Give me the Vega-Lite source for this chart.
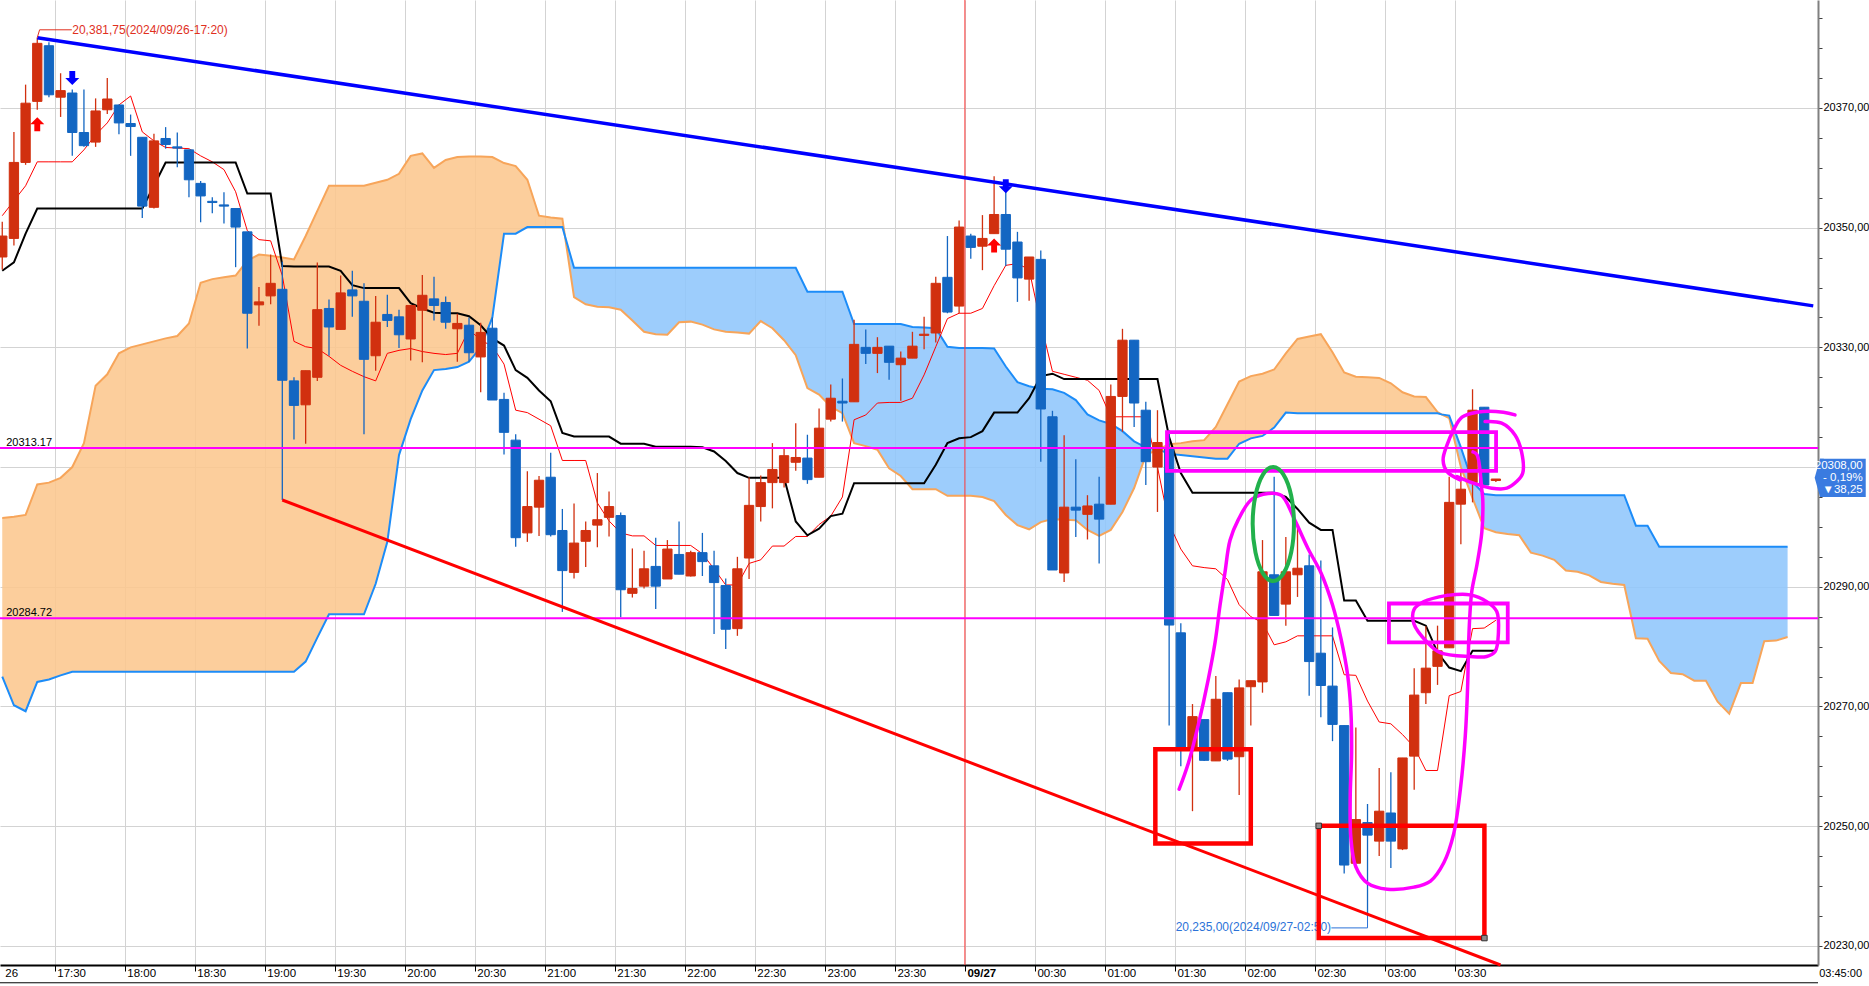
{
  "$schema": "https://vega.github.io/schema/vega-lite/v6.json",
  "width": 1818,
  "height": 965,
  "autosize": {"type": "none"},
  "padding": {"left": 0, "top": 0, "right": 51, "bottom": 21},
  "background": "#ffffff",
  "config": {"view": {"stroke": null}, "font": "Liberation Sans"},
  "resolve": {"axis": {"x": "independent", "y": "independent"}},
  "datasets": {
    "candles": [
      {"t":5,"o":20345.1,"h":20351,"l":20343,"c":20348.6,"tk":20352,"kj":20342.8},
      {"t":10,"o":20348.2,"h":20366,"l":20347,"c":20360.9,"tk":20354.5,"kj":20344.2},
      {"t":15,"o":20360.9,"h":20373.9,"l":20360.5,"c":20370.8,"tk":20357,"kj":20349},
      {"t":20,"o":20371.1,"h":20381.75,"l":20369.7,"c":20380.8,"tk":20361,"kj":20353.2},
      {"t":25,"o":20380.4,"h":20381,"l":20371.8,"c":20372.2,"tk":20361,"kj":20353.2},
      {"t":30,"o":20371.8,"h":20375.8,"l":20368.5,"c":20372.9,"tk":20361,"kj":20353.2},
      {"t":35,"o":20372.5,"h":20373.1,"l":20362,"c":20365.9,"tk":20361,"kj":20353.2},
      {"t":40,"o":20365.9,"h":20373.1,"l":20363.5,"c":20363.7,"tk":20363,"kj":20353.2},
      {"t":45,"o":20364.3,"h":20371.6,"l":20363.5,"c":20369.5,"tk":20365.5,"kj":20353.2},
      {"t":50,"o":20369.7,"h":20375,"l":20369,"c":20371.5,"tk":20367.5,"kj":20353.2},
      {"t":55,"o":20370.5,"h":20370.6,"l":20365.6,"c":20367.5,"tk":20370.5,"kj":20353.2},
      {"t":60,"o":20367.4,"h":20368.9,"l":20362,"c":20366.9,"tk":20372,"kj":20353.2},
      {"t":65,"o":20365.1,"h":20365.1,"l":20351.6,"c":20353.6,"tk":20366,"kj":20353.2},
      {"t":70,"o":20353.4,"h":20365.7,"l":20353.2,"c":20364.5,"tk":20364.5,"kj":20357},
      {"t":75,"o":20364.9,"h":20366.8,"l":20363.2,"c":20363.9,"tk":20363.4,"kj":20360.9},
      {"t":80,"o":20363.5,"h":20365.9,"l":20360.1,"c":20363.3,"tk":20363.3,"kj":20360.9},
      {"t":85,"o":20363,"h":20363,"l":20355.1,"c":20358,"tk":20363.2,"kj":20360.9},
      {"t":90,"o":20357.4,"h":20357.8,"l":20350.9,"c":20355.3,"tk":20362,"kj":20360.9},
      {"t":95,"o":20354.4,"h":20355.1,"l":20352.4,"c":20354.2,"tk":20361,"kj":20360.9},
      {"t":100,"o":20353.8,"h":20355.9,"l":20350.7,"c":20353.6,"tk":20359.7,"kj":20360.9},
      {"t":105,"o":20353.2,"h":20353.2,"l":20343.4,"c":20350.1,"tk":20356,"kj":20360.9},
      {"t":110,"o":20349.3,"h":20349.3,"l":20329.8,"c":20335.7,"tk":20349.5,"kj":20355.7},
      {"t":115,"o":20337.1,"h":20340.1,"l":20333.6,"c":20337.6,"tk":20348,"kj":20355.7},
      {"t":120,"o":20338.6,"h":20345.5,"l":20337.2,"c":20340.7,"tk":20347.8,"kj":20355.7},
      {"t":125,"o":20339.7,"h":20344.3,"l":20304.5,"c":20324.5,"tk":20342,"kj":20343.6},
      {"t":130,"o":20324.4,"h":20325,"l":20314.6,"c":20320.3,"tk":20331,"kj":20343.5},
      {"t":135,"o":20320.4,"h":20326.1,"l":20313.9,"c":20326.1,"tk":20330.1,"kj":20343.5},
      {"t":140,"o":20325,"h":20344.2,"l":20324.4,"c":20336.3,"tk":20329.8,"kj":20343.5},
      {"t":145,"o":20336.5,"h":20338,"l":20328.6,"c":20333.4,"tk":20328.5,"kj":20343.5},
      {"t":150,"o":20333,"h":20342,"l":20333,"c":20339.1,"tk":20327,"kj":20342.8},
      {"t":155,"o":20339.6,"h":20342.8,"l":20335.1,"c":20338.6,"tk":20326,"kj":20340.4},
      {"t":160,"o":20337.7,"h":20340.7,"l":20315.5,"c":20328,"tk":20325.1,"kj":20339.9},
      {"t":165,"o":20328.6,"h":20338.6,"l":20326.1,"c":20334.2,"tk":20324.4,"kj":20339.9},
      {"t":170,"o":20335.5,"h":20338.8,"l":20333.4,"c":20334.5,"tk":20329,"kj":20339.9},
      {"t":175,"o":20335.1,"h":20336.3,"l":20329.9,"c":20332.1,"tk":20329.5,"kj":20339.9},
      {"t":180,"o":20331.4,"h":20337,"l":20327.8,"c":20337,"tk":20329.8,"kj":20337.4},
      {"t":185,"o":20336.2,"h":20342.1,"l":20327.5,"c":20338.7,"tk":20329.3,"kj":20336.5},
      {"t":190,"o":20338.1,"h":20341.8,"l":20334.5,"c":20337,"tk":20329,"kj":20335.8},
      {"t":195,"o":20337.5,"h":20338.5,"l":20333.1,"c":20334.2,"tk":20328.8,"kj":20335.7},
      {"t":200,"o":20333.1,"h":20335.6,"l":20327.6,"c":20334,"tk":20329,"kj":20335.7},
      {"t":205,"o":20333.7,"h":20335,"l":20327.6,"c":20329.1,"tk":20333,"kj":20335.2},
      {"t":210,"o":20328.4,"h":20334.1,"l":20322.5,"c":20332.5,"tk":20331.2,"kj":20333.7},
      {"t":215,"o":20333.2,"h":20335,"l":20321.2,"c":20321.2,"tk":20330.2,"kj":20331.5},
      {"t":220,"o":20321.3,"h":20322.4,"l":20312.1,"c":20315.8,"tk":20327.2,"kj":20330.3},
      {"t":225,"o":20314.5,"h":20315.5,"l":20296.7,"c":20298.2,"tk":20319.5,"kj":20326.2},
      {"t":230,"o":20299,"h":20309.3,"l":20297.5,"c":20303.4,"tk":20319.1,"kj":20324.9},
      {"t":235,"o":20303.3,"h":20308.5,"l":20298.5,"c":20307.8,"tk":20318,"kj":20322.8},
      {"t":240,"o":20308.3,"h":20312.4,"l":20298.4,"c":20298.7,"tk":20316.9,"kj":20321},
      {"t":245,"o":20299.4,"h":20303,"l":20285.8,"c":20292.7,"tk":20311.1,"kj":20315.7},
      {"t":250,"o":20292.4,"h":20303.9,"l":20291.4,"c":20297.3,"tk":20311.1,"kj":20315.1},
      {"t":255,"o":20297.6,"h":20300.9,"l":20293.3,"c":20299.4,"tk":20311.1,"kj":20315.1},
      {"t":260,"o":20300.3,"h":20309,"l":20296.6,"c":20301.2,"tk":20304,"kj":20315.1},
      {"t":265,"o":20301.6,"h":20305.9,"l":20298.4,"c":20303.4,"tk":20301,"kj":20315.1},
      {"t":270,"o":20301.9,"h":20302.4,"l":20284.9,"c":20289.5,"tk":20299,"kj":20313.9},
      {"t":275,"o":20288.9,"h":20296.4,"l":20288.2,"c":20289.7,"tk":20298.5,"kj":20313.9},
      {"t":280,"o":20290.1,"h":20296,"l":20289.7,"c":20293,"tk":20298.5,"kj":20313.9},
      {"t":285,"o":20293.4,"h":20298.2,"l":20286.3,"c":20290.1,"tk":20296.9,"kj":20313.4},
      {"t":290,"o":20291.3,"h":20297.8,"l":20291.3,"c":20296.3,"tk":20296.9,"kj":20313.4},
      {"t":295,"o":20295.4,"h":20300.9,"l":20292.1,"c":20292.1,"tk":20296.9,"kj":20313.4},
      {"t":300,"o":20291.8,"h":20296,"l":20291.7,"c":20295.7,"tk":20296.9,"kj":20313.4},
      {"t":305,"o":20295.7,"h":20299,"l":20291.8,"c":20294.2,"tk":20295.5,"kj":20313.3},
      {"t":310,"o":20293.5,"h":20296,"l":20282.1,"c":20290.7,"tk":20293,"kj":20312.6},
      {"t":315,"o":20290.2,"h":20291.4,"l":20279.6,"c":20282.9,"tk":20290.3,"kj":20311},
      {"t":320,"o":20283,"h":20295,"l":20281.8,"c":20293,"tk":20290.3,"kj":20309},
      {"t":325,"o":20294.8,"h":20308.3,"l":20291.3,"c":20303.6,"tk":20293.9,"kj":20308.2},
      {"t":330,"o":20303.4,"h":20308.6,"l":20300.9,"c":20307.4,"tk":20294.5,"kj":20308.2},
      {"t":335,"o":20307.4,"h":20314,"l":20303.1,"c":20309.6,"tk":20296.8,"kj":20308.2},
      {"t":340,"o":20307.4,"h":20313,"l":20306.6,"c":20311.9,"tk":20296.8,"kj":20308.2},
      {"t":345,"o":20310.8,"h":20317.3,"l":20309.4,"c":20311.6,"tk":20298.4,"kj":20300.9},
      {"t":350,"o":20311.5,"h":20315.4,"l":20307.2,"c":20307.9,"tk":20298.4,"kj":20298.6},
      {"t":355,"o":20308.3,"h":20319.8,"l":20308.3,"c":20316.5,"tk":20300.4,"kj":20299.7},
      {"t":360,"o":20318,"h":20323.8,"l":20317.6,"c":20321.5,"tk":20301.8,"kj":20301.8},
      {"t":365,"o":20321,"h":20324.8,"l":20317.6,"c":20320.7,"tk":20305,"kj":20302.2},
      {"t":370,"o":20320.9,"h":20334.6,"l":20320.9,"c":20330.5,"tk":20317.9,"kj":20307.3},
      {"t":375,"o":20330,"h":20333,"l":20327.2,"c":20329,"tk":20318.7,"kj":20307.3},
      {"t":380,"o":20329,"h":20331.7,"l":20325.7,"c":20330,"tk":20320.7,"kj":20307.3},
      {"t":385,"o":20330.2,"h":20330.2,"l":20324.6,"c":20327.5,"tk":20320.8,"kj":20307.3},
      {"t":390,"o":20327.1,"h":20329.3,"l":20321.1,"c":20328.2,"tk":20320.8,"kj":20307.3},
      {"t":395,"o":20328.2,"h":20332.6,"l":20328.2,"c":20330.2,"tk":20321.5,"kj":20307.3},
      {"t":400,"o":20332,"h":20335.1,"l":20329.7,"c":20332.2,"tk":20325.4,"kj":20307.3},
      {"t":405,"o":20332.4,"h":20341.8,"l":20330.8,"c":20340.7,"tk":20330.1,"kj":20310.4},
      {"t":410,"o":20341.7,"h":20348.6,"l":20335.7,"c":20335.9,"tk":20334.8,"kj":20314},
      {"t":415,"o":20336.9,"h":20351.2,"l":20335.7,"c":20350.1,"tk":20335.7,"kj":20314.8},
      {"t":420,"o":20348.6,"h":20349,"l":20344.8,"c":20346.7,"tk":20335.7,"kj":20315},
      {"t":425,"o":20346.9,"h":20352.1,"l":20342.9,"c":20348.2,"tk":20336.5,"kj":20316},
      {"t":430,"o":20349,"h":20358.6,"l":20349,"c":20352.2,"tk":20340.3,"kj":20319.1},
      {"t":435,"o":20352.2,"h":20357.5,"l":20343.6,"c":20346.4,"tk":20343.7,"kj":20319.1},
      {"t":440,"o":20347.6,"h":20349.3,"l":20337.6,"c":20341.6,"tk":20344,"kj":20319.1},
      {"t":445,"o":20341.4,"h":20345.1,"l":20337.8,"c":20345.1,"tk":20343,"kj":20321.5},
      {"t":450,"o":20344.7,"h":20346.2,"l":20310.9,"c":20319.7,"tk":20334,"kj":20325.2},
      {"t":455,"o":20318.4,"h":20319.4,"l":20292.8,"c":20292.8,"tk":20326,"kj":20325.6},
      {"t":460,"o":20292.3,"h":20315.3,"l":20290.8,"c":20303.3,"tk":20325.5,"kj":20324.7},
      {"t":465,"o":20303.3,"h":20311.3,"l":20298.3,"c":20302.8,"tk":20325,"kj":20324.7},
      {"t":470,"o":20302.1,"h":20305.3,"l":20297.9,"c":20303.5,"tk":20324.5,"kj":20324.7},
      {"t":475,"o":20303.8,"h":20308.4,"l":20293.9,"c":20301.3,"tk":20322.8,"kj":20324.7},
      {"t":480,"o":20303.8,"h":20323.8,"l":20303.8,"c":20321.8,"tk":20318.4,"kj":20324.7},
      {"t":485,"o":20321.8,"h":20333.1,"l":20315.9,"c":20331.2,"tk":20318.4,"kj":20324.7},
      {"t":490,"o":20331.2,"h":20331.2,"l":20316.7,"c":20320.7,"tk":20318.4,"kj":20324.7},
      {"t":495,"o":20319.5,"h":20320.9,"l":20307,"c":20310.9,"tk":20318.4,"kj":20324.7},
      {"t":500,"o":20310,"h":20319.5,"l":20302.5,"c":20314.1,"tk":20310,"kj":20324.7},
      {"t":505,"o":20313.2,"h":20316.2,"l":20266.8,"c":20283.6,"tk":20300.5,"kj":20315},
      {"t":510,"o":20282.3,"h":20283.9,"l":20260,"c":20263.1,"tk":20296.3,"kj":20309},
      {"t":515,"o":20263.2,"h":20270.4,"l":20252.5,"c":20268.3,"tk":20293.5,"kj":20305.7},
      {"t":520,"o":20267.8,"h":20267.8,"l":20260.9,"c":20261,"tk":20293.2,"kj":20305.7},
      {"t":525,"o":20260.9,"h":20275.1,"l":20260.9,"c":20271.2,"tk":20293,"kj":20305.7},
      {"t":530,"o":20272.3,"h":20272.3,"l":20260.9,"c":20261.2,"tk":20291.2,"kj":20305.7},
      {"t":535,"o":20261.6,"h":20274.5,"l":20255.2,"c":20273.1,"tk":20287,"kj":20305.7},
      {"t":540,"o":20273.3,"h":20274.3,"l":20266.8,"c":20274.3,"tk":20285,"kj":20305.7},
      {"t":545,"o":20274.1,"h":20297.8,"l":20272.3,"c":20292.5,"tk":20284,"kj":20305.7},
      {"t":550,"o":20292,"h":20308.4,"l":20285.2,"c":20285.2,"tk":20280.3,"kj":20305.7},
      {"t":555,"o":20287.1,"h":20298.3,"l":20283.5,"c":20292.5,"tk":20280.8,"kj":20305},
      {"t":560,"o":20292,"h":20299.9,"l":20288.3,"c":20293.1,"tk":20281.8,"kj":20303},
      {"t":565,"o":20293.5,"h":20295.4,"l":20271.8,"c":20277.5,"tk":20281.8,"kj":20300.7},
      {"t":570,"o":20278.9,"h":20294.4,"l":20268.2,"c":20273.5,"tk":20281.8,"kj":20299.5},
      {"t":575,"o":20273.4,"h":20283.2,"l":20264.2,"c":20267,"tk":20281.8,"kj":20299.5},
      {"t":580,"o":20266.8,"h":20266.8,"l":20242.1,"c":20243.5,"tk":20275.3,"kj":20287.7},
      {"t":585,"o":20243.8,"h":20266.5,"l":20243.8,"c":20251.1,"tk":20275.2,"kj":20287.7},
      {"t":590,"o":20250.6,"h":20253.7,"l":20235,"c":20248.5,"tk":20270.9,"kj":20284.3},
      {"t":595,"o":20247.5,"h":20259.7,"l":20245,"c":20252.5,"tk":20267.4,"kj":20284.3},
      {"t":600,"o":20252.2,"h":20259,"l":20243,"c":20247.5,"tk":20267.1,"kj":20284.3},
      {"t":605,"o":20246.2,"h":20261.4,"l":20246,"c":20261.4,"tk":20265.3,"kj":20284.3},
      {"t":610,"o":20261.7,"h":20276.4,"l":20256.1,"c":20271.9,"tk":20263.2,"kj":20284.3},
      {"t":615,"o":20272.3,"h":20283.4,"l":20270.4,"c":20276.4,"tk":20259.3,"kj":20283.5},
      {"t":620,"o":20276.7,"h":20283.5,"l":20273.6,"c":20279.3,"tk":20259.3,"kj":20279},
      {"t":625,"o":20279.8,"h":20308.4,"l":20279.8,"c":20304.1,"tk":20271.8,"kj":20276.5},
      {"t":630,"o":20303.8,"h":20309.3,"l":20297.1,"c":20306.3,"tk":20272.5,"kj":20275.9},
      {"t":635,"o":20307.4,"h":20323,"l":20304.1,"c":20319.5,"tk":20283,"kj":20279.3},
      {"t":640,"o":20320,"h":20320,"l":20307,"c":20307,"tk":20283.1,"kj":20279.3},
      {"t":645,"o":20307.75,"h":20308,"l":20307.5,"c":20308,"tk":20284.4,"kj":20279.3}
    ],
    "kumo": [
      {"t":5,"a":20275,"b":20301.5,"s":1,"k":"o"},
      {"t":10,"a":20270.2,"b":20301.7,"s":1,"k":"o"},
      {"t":15,"a":20269.2,"b":20302,"s":1,"k":"o"},
      {"t":20,"a":20274.1,"b":20307.1,"s":1,"k":"o"},
      {"t":25,"a":20274.5,"b":20307.4,"s":1,"k":"o"},
      {"t":30,"a":20275.2,"b":20308.2,"s":1,"k":"o"},
      {"t":35,"a":20275.8,"b":20310,"s":1,"k":"o"},
      {"t":40,"a":20275.8,"b":20314,"s":1,"k":"o"},
      {"t":45,"a":20275.8,"b":20323.6,"s":1,"k":"o"},
      {"t":50,"a":20275.8,"b":20325.5,"s":1,"k":"o"},
      {"t":55,"a":20275.8,"b":20329,"s":1,"k":"o"},
      {"t":60,"a":20275.8,"b":20330,"s":1,"k":"o"},
      {"t":65,"a":20275.8,"b":20330.5,"s":1,"k":"o"},
      {"t":70,"a":20275.8,"b":20331,"s":1,"k":"o"},
      {"t":75,"a":20275.8,"b":20331.5,"s":1,"k":"o"},
      {"t":80,"a":20275.8,"b":20331.9,"s":1,"k":"o"},
      {"t":85,"a":20275.8,"b":20334,"s":1,"k":"o"},
      {"t":90,"a":20275.8,"b":20340.8,"s":1,"k":"o"},
      {"t":95,"a":20275.8,"b":20341.4,"s":1,"k":"o"},
      {"t":100,"a":20275.8,"b":20341.7,"s":1,"k":"o"},
      {"t":105,"a":20275.8,"b":20342,"s":1,"k":"o"},
      {"t":110,"a":20275.8,"b":20344.5,"s":1,"k":"o"},
      {"t":115,"a":20275.8,"b":20345.5,"s":1,"k":"o"},
      {"t":120,"a":20275.8,"b":20345.3,"s":1,"k":"o"},
      {"t":125,"a":20275.8,"b":20345,"s":1,"k":"o"},
      {"t":130,"a":20275.8,"b":20344.7,"s":1,"k":"o"},
      {"t":135,"a":20277.5,"b":20348.6,"s":1,"k":"o"},
      {"t":140,"a":20281.5,"b":20352.8,"s":1,"k":"o"},
      {"t":145,"a":20285.4,"b":20357,"s":1,"k":"o"},
      {"t":150,"a":20285.4,"b":20357,"s":1,"k":"o"},
      {"t":155,"a":20285.4,"b":20357,"s":1,"k":"o"},
      {"t":160,"a":20285.4,"b":20357,"s":1,"k":"o"},
      {"t":165,"a":20290.5,"b":20357.5,"s":1,"k":"o"},
      {"t":170,"a":20297.5,"b":20358,"s":1,"k":"o"},
      {"t":175,"a":20312,"b":20359,"s":1,"k":"o"},
      {"t":180,"a":20318,"b":20362,"s":1,"k":"o"},
      {"t":185,"a":20322.8,"b":20362.4,"s":1,"k":"o"},
      {"t":190,"a":20326.2,"b":20360,"s":1,"k":"o"},
      {"t":195,"a":20326.4,"b":20361.3,"s":1,"k":"o"},
      {"t":200,"a":20326.7,"b":20361.8,"s":1,"k":"o"},
      {"t":205,"a":20327.6,"b":20361.9,"s":1,"k":"o"},
      {"t":210,"a":20330,"b":20361.9,"s":1,"k":"o"},
      {"t":215,"a":20335,"b":20361.8,"s":1,"k":"o"},
      {"t":220,"a":20349,"b":20360.8,"s":1,"k":"o"},
      {"t":225,"a":20349,"b":20360.3,"s":1,"k":"o"},
      {"t":230,"a":20350.1,"b":20358,"s":1,"k":"o"},
      {"t":235,"a":20350.1,"b":20352,"s":1,"k":"o"},
      {"t":240,"a":20350.1,"b":20351.7,"s":1,"k":"o"},
      {"t":245,"a":20350.1,"b":20351.5,"s":1,"k":"o"},
      {"t":246.1,"a":20348.6,"b":20348.6,"s":1,"k":"o"},
      {"t":246.1,"a":20348.6,"b":20348.6,"s":2,"k":"b"},
      {"t":250,"a":20343.3,"b":20338.4,"s":2,"k":"b"},
      {"t":255,"a":20343.3,"b":20337.2,"s":2,"k":"b"},
      {"t":260,"a":20343.3,"b":20336.8,"s":2,"k":"b"},
      {"t":265,"a":20343.3,"b":20336.7,"s":2,"k":"b"},
      {"t":270,"a":20343.3,"b":20336.3,"s":2,"k":"b"},
      {"t":275,"a":20343.3,"b":20334.5,"s":2,"k":"b"},
      {"t":280,"a":20343.3,"b":20332.6,"s":2,"k":"b"},
      {"t":285,"a":20343.3,"b":20332.2,"s":2,"k":"b"},
      {"t":290,"a":20343.3,"b":20332.1,"s":2,"k":"b"},
      {"t":295,"a":20343.3,"b":20334.2,"s":2,"k":"b"},
      {"t":300,"a":20343.3,"b":20334.3,"s":2,"k":"b"},
      {"t":305,"a":20343.3,"b":20333.8,"s":2,"k":"b"},
      {"t":310,"a":20343.3,"b":20333,"s":2,"k":"b"},
      {"t":315,"a":20343.3,"b":20332.6,"s":2,"k":"b"},
      {"t":320,"a":20343.3,"b":20332.5,"s":2,"k":"b"},
      {"t":325,"a":20343.3,"b":20332.3,"s":2,"k":"b"},
      {"t":330,"a":20343.3,"b":20334.4,"s":2,"k":"b"},
      {"t":335,"a":20343.3,"b":20333.2,"s":2,"k":"b"},
      {"t":340,"a":20343.3,"b":20331.2,"s":2,"k":"b"},
      {"t":345,"a":20343.3,"b":20328.7,"s":2,"k":"b"},
      {"t":350,"a":20339.3,"b":20323.2,"s":2,"k":"b"},
      {"t":355,"a":20339.3,"b":20322.1,"s":2,"k":"b"},
      {"t":360,"a":20339.3,"b":20320.1,"s":2,"k":"b"},
      {"t":365,"a":20339.3,"b":20319,"s":2,"k":"b"},
      {"t":370,"a":20333.9,"b":20314,"s":2,"k":"b"},
      {"t":375,"a":20333.9,"b":20313.5,"s":2,"k":"b"},
      {"t":380,"a":20333.9,"b":20312.9,"s":2,"k":"b"},
      {"t":385,"a":20333.9,"b":20309.8,"s":2,"k":"b"},
      {"t":390,"a":20333.9,"b":20308.5,"s":2,"k":"b"},
      {"t":395,"a":20333.4,"b":20306.3,"s":2,"k":"b"},
      {"t":400,"a":20333.3,"b":20306.3,"s":2,"k":"b"},
      {"t":405,"a":20333.2,"b":20306.3,"s":2,"k":"b"},
      {"t":410,"a":20330.1,"b":20305.2,"s":2,"k":"b"},
      {"t":415,"a":20329.9,"b":20305.2,"s":2,"k":"b"},
      {"t":420,"a":20329.9,"b":20305.2,"s":2,"k":"b"},
      {"t":425,"a":20329.9,"b":20305,"s":2,"k":"b"},
      {"t":430,"a":20329.8,"b":20304.3,"s":2,"k":"b"},
      {"t":435,"a":20326.8,"b":20302,"s":2,"k":"b"},
      {"t":440,"a":20324.2,"b":20300.3,"s":2,"k":"b"},
      {"t":445,"a":20323.5,"b":20299.6,"s":2,"k":"b"},
      {"t":450,"a":20323.1,"b":20300.8,"s":2,"k":"b"},
      {"t":455,"a":20323,"b":20301.3,"s":2,"k":"b"},
      {"t":460,"a":20322.4,"b":20301.2,"s":2,"k":"b"},
      {"t":465,"a":20321.2,"b":20301.1,"s":2,"k":"b"},
      {"t":470,"a":20318.8,"b":20299.5,"s":2,"k":"b"},
      {"t":475,"a":20317.8,"b":20298.5,"s":2,"k":"b"},
      {"t":480,"a":20317.2,"b":20299.5,"s":2,"k":"b"},
      {"t":485,"a":20316,"b":20302.5,"s":2,"k":"b"},
      {"t":490,"a":20314.3,"b":20306.5,"s":2,"k":"b"},
      {"t":495,"a":20313.3,"b":20312,"s":2,"k":"b"},
      {"t":500,"a":20313,"b":20312.9,"s":2,"k":"b"},
      {"t":500.3,"a":20312.96,"b":20312.96,"s":2,"k":"b"},
      {"t":500.3,"a":20312.96,"b":20312.96,"s":3,"k":"o"},
      {"t":505,"a":20312.2,"b":20313.8,"s":3,"k":"o"},
      {"t":510,"a":20312,"b":20314,"s":3,"k":"o"},
      {"t":515,"a":20311.8,"b":20314.3,"s":3,"k":"o"},
      {"t":520,"a":20311.6,"b":20314.5,"s":3,"k":"o"},
      {"t":525,"a":20311.4,"b":20316.7,"s":3,"k":"o"},
      {"t":530,"a":20311.4,"b":20320.5,"s":3,"k":"o"},
      {"t":535,"a":20313.9,"b":20324.3,"s":3,"k":"o"},
      {"t":540,"a":20314.8,"b":20325.2,"s":3,"k":"o"},
      {"t":545,"a":20315.2,"b":20325.6,"s":3,"k":"o"},
      {"t":550,"a":20316.6,"b":20326.3,"s":3,"k":"o"},
      {"t":555,"a":20319.1,"b":20329,"s":3,"k":"o"},
      {"t":560,"a":20319,"b":20331.4,"s":3,"k":"o"},
      {"t":565,"a":20319,"b":20331.8,"s":3,"k":"o"},
      {"t":570,"a":20319,"b":20332.2,"s":3,"k":"o"},
      {"t":575,"a":20319,"b":20329.2,"s":3,"k":"o"},
      {"t":580,"a":20319,"b":20325.8,"s":3,"k":"o"},
      {"t":585,"a":20319,"b":20325.1,"s":3,"k":"o"},
      {"t":590,"a":20319,"b":20325,"s":3,"k":"o"},
      {"t":595,"a":20319,"b":20324.9,"s":3,"k":"o"},
      {"t":600,"a":20319,"b":20324,"s":3,"k":"o"},
      {"t":605,"a":20319,"b":20322.5,"s":3,"k":"o"},
      {"t":610,"a":20319,"b":20321.8,"s":3,"k":"o"},
      {"t":615,"a":20319,"b":20321.7,"s":3,"k":"o"},
      {"t":620,"a":20319,"b":20319.2,"s":3,"k":"o"},
      {"t":621.7,"a":20318.8,"b":20318.8,"s":3,"k":"o"},
      {"t":621.7,"a":20318.8,"b":20318.8,"s":4,"k":"b"},
      {"t":625,"a":20318.6,"b":20318.2,"s":4,"k":"b"},
      {"t":630,"a":20313.3,"b":20310,"s":4,"k":"b"},
      {"t":635,"a":20307.5,"b":20304.8,"s":4,"k":"b"},
      {"t":640,"a":20305.5,"b":20299.8,"s":4,"k":"b"},
      {"t":645,"a":20305.3,"b":20299.1,"s":4,"k":"b"},
      {"t":650,"a":20305.3,"b":20298.8,"s":4,"k":"b"},
      {"t":655,"a":20305.3,"b":20298.6,"s":4,"k":"b"},
      {"t":660,"a":20305.3,"b":20295.7,"s":4,"k":"b"},
      {"t":665,"a":20305.3,"b":20295.2,"s":4,"k":"b"},
      {"t":670,"a":20305.3,"b":20294.5,"s":4,"k":"b"},
      {"t":675,"a":20305.3,"b":20292.7,"s":4,"k":"b"},
      {"t":680,"a":20305.3,"b":20292.5,"s":4,"k":"b"},
      {"t":685,"a":20305.3,"b":20291.9,"s":4,"k":"b"},
      {"t":690,"a":20305.3,"b":20290.8,"s":4,"k":"b"},
      {"t":695,"a":20305.3,"b":20290.5,"s":4,"k":"b"},
      {"t":700,"a":20305.3,"b":20290.3,"s":4,"k":"b"},
      {"t":705,"a":20300.2,"b":20281.4,"s":4,"k":"b"},
      {"t":710,"a":20300.2,"b":20281.3,"s":4,"k":"b"},
      {"t":715,"a":20296.7,"b":20277.6,"s":4,"k":"b"},
      {"t":720,"a":20296.7,"b":20275.6,"s":4,"k":"b"},
      {"t":725,"a":20296.7,"b":20275.4,"s":4,"k":"b"},
      {"t":730,"a":20296.7,"b":20274.3,"s":4,"k":"b"},
      {"t":735,"a":20296.7,"b":20274.3,"s":4,"k":"b"},
      {"t":740,"a":20296.7,"b":20270.8,"s":4,"k":"b"},
      {"t":745,"a":20296.7,"b":20268.8,"s":4,"k":"b"},
      {"t":750,"a":20296.7,"b":20273.9,"s":4,"k":"b"},
      {"t":755,"a":20296.7,"b":20273.9,"s":4,"k":"b"},
      {"t":760,"a":20296.7,"b":20280.9,"s":4,"k":"b"},
      {"t":765,"a":20296.7,"b":20281,"s":4,"k":"b"},
      {"t":770,"a":20296.7,"b":20281.6,"s":4,"k":"b"}
    ],
    "ink": [
      {"g":"loop","i":1,"t":511.8,"p":20256.17},
      {"g":"loop","i":2,"t":515.8,"p":20260.6},
      {"g":"loop","i":3,"t":520.1,"p":20267.08},
      {"g":"loop","i":4,"t":524.3,"p":20274.58},
      {"g":"loop","i":5,"t":527.2,"p":20280.72},
      {"g":"loop","i":6,"t":529.3,"p":20286.86},
      {"g":"loop","i":7,"t":531.4,"p":20292.3},
      {"g":"loop","i":8,"t":533.6,"p":20297.76},
      {"g":"loop","i":9,"t":537.1,"p":20301.17},
      {"g":"loop","i":10,"t":542.8,"p":20304.58},
      {"g":"loop","i":11,"t":549.9,"p":20305.6},
      {"g":"loop","i":12,"t":555.6,"p":20305.27},
      {"g":"loop","i":13,"t":561.3,"p":20301.17},
      {"g":"loop","i":14,"t":567.0,"p":20296.4},
      {"g":"loop","i":15,"t":572.6,"p":20292.3},
      {"g":"loop","i":16,"t":577.6,"p":20286.86},
      {"g":"loop","i":17,"t":581.1,"p":20281.4},
      {"g":"loop","i":18,"t":584.0,"p":20275.26},
      {"g":"loop","i":19,"t":585.4,"p":20269.13},
      {"g":"loop","i":20,"t":585.7,"p":20262.3},
      {"g":"loop","i":21,"t":585.1,"p":20254.8},
      {"g":"loop","i":22,"t":585.4,"p":20247.98},
      {"g":"loop","i":23,"t":587.5,"p":20243.22},
      {"g":"loop","i":24,"t":592.5,"p":20240.48},
      {"g":"loop","i":25,"t":601.0,"p":20239.46},
      {"g":"loop","i":26,"t":612.4,"p":20239.81},
      {"g":"loop","i":27,"t":619.5,"p":20240.83},
      {"g":"loop","i":28,"t":625.2,"p":20243.89},
      {"g":"loop","i":29,"t":629.4,"p":20248.67},
      {"g":"loop","i":30,"t":632.3,"p":20256.17},
      {"g":"loop","i":31,"t":634.4,"p":20265.04},
      {"g":"loop","i":32,"t":635.4,"p":20273.22},
      {"g":"loop","i":33,"t":635.8,"p":20280.04},
      {"g":"loop","i":34,"t":636.3,"p":20284.8},
      {"g":"loop","i":35,"t":637.2,"p":20289.25},
      {"g":"loop","i":36,"t":639.4,"p":20293.67},
      {"g":"loop","i":37,"t":641.5,"p":20299.13},
      {"g":"loop","i":38,"t":641.9,"p":20304.58},
      {"g":"loop","i":39,"t":641.5,"p":20306.18},
      {"g":"loop","i":40,"t":639.4,"p":20312.08},
      {"g":"loop","i":41,"t":637.7,"p":20312.53},
      {"g":"ringB","i":1,"t":626.6,"p":20288.56},
      {"g":"ringB","i":2,"t":636.4,"p":20288.64},
      {"g":"ringB","i":3,"t":643.6,"p":20287.52},
      {"g":"ringB","i":4,"t":647.9,"p":20285.85},
      {"g":"ringB","i":5,"t":648.6,"p":20282.25},
      {"g":"ringB","i":6,"t":647.2,"p":20279.17},
      {"g":"ringB","i":7,"t":643.6,"p":20278.34},
      {"g":"ringB","i":8,"t":636.4,"p":20278.34},
      {"g":"ringB","i":9,"t":623.7,"p":20279.0},
      {"g":"ringB","i":10,"t":618.1,"p":20280.73},
      {"g":"ringB","i":11,"t":612.4,"p":20283.8},
      {"g":"ringB","i":12,"t":612.4,"p":20286.17},
      {"g":"ringB","i":13,"t":616.7,"p":20287.54},
      {"g":"ringB","i":14,"t":626.6,"p":20288.56},
      {"g":"topA","i":1,"t":655.7,"p":20318.71},
      {"g":"topA","i":2,"t":650.7,"p":20319.16},
      {"g":"topA","i":3,"t":639.4,"p":20319.16},
      {"g":"topA","i":4,"t":633.0,"p":20318.33},
      {"g":"topA","i":5,"t":629.4,"p":20316.21},
      {"g":"topA","i":6,"t":626.6,"p":20313.7},
      {"g":"topA","i":7,"t":624.9,"p":20311.2},
      {"g":"topA","i":8,"t":626.6,"p":20309.24},
      {"g":"topA","i":9,"t":632.2,"p":20307.85},
      {"g":"topB","i":1,"t":642.9,"p":20317.6},
      {"g":"topB","i":2,"t":650.0,"p":20317.33},
      {"g":"topB","i":3,"t":655.7,"p":20315.37},
      {"g":"topB","i":4,"t":658.5,"p":20312.58},
      {"g":"topB","i":5,"t":659.0,"p":20308.97},
      {"g":"topB","i":6,"t":656.4,"p":20307.57},
      {"g":"topB","i":7,"t":652.2,"p":20306.47},
      {"g":"topB","i":8,"t":645.8,"p":20306.47},
      {"g":"topB","i":9,"t":638.0,"p":20307.3},
      {"g":"topB","i":10,"t":630.9,"p":20308.41}
    ],
    "ellipse": [
      {"i":1,"t":561.0,"p":20300.49},
      {"i":2,"t":559.8,"p":20305.25},
      {"i":3,"t":556.5,"p":20308.74},
      {"i":4,"t":552.1,"p":20310.01},
      {"i":5,"t":547.7,"p":20308.74},
      {"i":6,"t":544.5,"p":20305.25},
      {"i":7,"t":543.3,"p":20300.49},
      {"i":8,"t":544.5,"p":20295.73},
      {"i":9,"t":547.7,"p":20292.24},
      {"i":10,"t":552.1,"p":20290.97},
      {"i":11,"t":556.5,"p":20292.24},
      {"i":12,"t":559.8,"p":20295.73}
    ]
  },
  "layer": [
    {
      "data": {"name": "kumo"},
      "mark": {"type": "area", "xOffset": 5.87, "opacity": 0.88},
      "encoding": {
        "x": {
          "field": "t", "type": "quantitative",
          "scale": {"domain": [8.69, 783.4], "nice": false, "zero": false},
          "axis": {
            "title": null, "orient": "bottom",
            "values": [30, 60, 90, 120, 150, 180, 210, 240, 270, 300, 330, 360, 390, 420, 450, 480, 510, 540, 570, 600, 630],
            "grid": true, "gridColor": "#d3d3d3", "gridWidth": 1,
            "domain": true, "domainColor": "#000000", "domainWidth": 2,
            "ticks": true, "tickColor": "#000000", "tickSize": 6, "tickWidth": 1,
            "labelAlign": "left", "labelBaseline": "top", "labelPadding": -4, "labelOffset": 2,
            "labelFlush": false, "labelOverlap": false, "labelBound": false,
            "labelFont": "Liberation Sans", "labelFontSize": 11.5, "labelColor": "#000000",
            "labelFontWeight": {"condition": {"test": "datum.value == 420", "value": "bold"}, "value": "normal"},
            "labelExpr": "datum.value == 420 ? '09/27' : (floor((datum.value / 60 + 17) % 24) < 10 ? '0' : '') + floor((datum.value / 60 + 17) % 24) + ':' + (datum.value % 60 == 0 ? '00' : '30')"
          }
        },
        "y": {
          "field": "b", "type": "quantitative", "stack": null,
          "scale": {"domain": [20226.8, 20388.04], "nice": false, "zero": false},
          "axis": {
            "orient": "right", "title": null,
            "values": [20230, 20235, 20240, 20245, 20250, 20255, 20260, 20265, 20270, 20275, 20280, 20285, 20290, 20295, 20300, 20305, 20310, 20315, 20320, 20325, 20330, 20335, 20340, 20345, 20350, 20355, 20360, 20365, 20370, 20375, 20380, 20385],
            "grid": true, "gridColor": "#d3d3d3",
            "gridOpacity": {"condition": {"test": "datum.value % 20 == 10", "value": 1}, "value": 0},
            "domain": true, "domainColor": "#808080", "domainWidth": 2,
            "ticks": true, "tickColor": "#404040", "tickSize": 4,
            "labelPadding": 1, "labelFont": "Liberation Sans", "labelFontSize": 11, "labelColor": "#000000",
            "labelBaseline": "middle", "labelOverlap": false, "labelFlush": false, "labelBound": false,
            "labelExpr": "datum.value % 20 == 10 && datum.value != 20310 ? replace(format(datum.value, '.2f'), '.', ',') : ''"
          }
        },
        "y2": {"field": "a"},
        "color": {"field": "k", "type": "nominal", "scale": {"domain": ["o", "b"], "range": ["#fcc78e", "#90c6fc"]}, "legend": null},
        "detail": {"field": "s"}
      }
    },
    {
      "data": {"name": "kumo"},
      "mark": {"type": "line", "xOffset": 5.87, "color": "#f7a55a", "strokeWidth": 2},
      "encoding": {
        "x": {"field": "t", "type": "quantitative", "scale": {"domain": [8.69, 783.4], "nice": false, "zero": false}, "axis": null},
        "y": {"field": "b", "type": "quantitative", "scale": {"domain": [20226.8, 20388.04], "nice": false, "zero": false}, "axis": null}
      }
    },
    {
      "data": {"name": "kumo"},
      "mark": {"type": "line", "xOffset": 5.87, "color": "#1c8cf8", "strokeWidth": 2},
      "encoding": {
        "x": {"field": "t", "type": "quantitative", "scale": {"domain": [8.69, 783.4], "nice": false, "zero": false}, "axis": null},
        "y": {"field": "a", "type": "quantitative", "scale": {"domain": [20226.8, 20388.04], "nice": false, "zero": false}, "axis": null}
      }
    },
    {
      "data": {"values": [{"t": 420}]},
      "mark": {"type": "rule", "color": "#ff3a3a", "strokeWidth": 1},
      "encoding": {
        "x": {"field": "t", "type": "quantitative", "scale": {"domain": [8.69, 783.4], "nice": false, "zero": false}, "axis": null}
      }
    },
    {
      "data": {"values": [{"p": 20223.83}]},
      "mark": {"type": "rule", "color": "#000000", "strokeWidth": 1},
      "encoding": {
        "y": {"field": "p", "type": "quantitative", "scale": {"domain": [20226.8, 20388.04], "nice": false, "zero": false}, "axis": null}
      }
    },
    {
      "data": {"name": "candles"},
      "mark": {"type": "line", "xOffset": 5.87, "color": "#ff0000", "strokeWidth": 1},
      "encoding": {
        "x": {"field": "t", "type": "quantitative", "scale": {"domain": [8.69, 783.4], "nice": false, "zero": false}, "axis": null},
        "y": {"field": "tk", "type": "quantitative", "scale": {"domain": [20226.8, 20388.04], "nice": false, "zero": false}, "axis": null}
      }
    },
    {
      "data": {"name": "candles"},
      "mark": {"type": "line", "xOffset": 5.87, "color": "#000000", "strokeWidth": 2},
      "encoding": {
        "x": {"field": "t", "type": "quantitative", "scale": {"domain": [8.69, 783.4], "nice": false, "zero": false}, "axis": null},
        "y": {"field": "kj", "type": "quantitative", "scale": {"domain": [20226.8, 20388.04], "nice": false, "zero": false}, "axis": null}
      }
    },
    {
      "data": {"name": "candles"},
      "mark": {"type": "rule", "xOffset": 5.87, "strokeWidth": 1.3},
      "encoding": {
        "x": {"field": "t", "type": "quantitative", "scale": {"domain": [8.69, 783.4], "nice": false, "zero": false}, "axis": null},
        "y": {"field": "l", "type": "quantitative", "scale": {"domain": [20226.8, 20388.04], "nice": false, "zero": false}, "axis": null},
        "y2": {"field": "h"},
        "stroke": {"condition": {"test": "datum.c >= datum.o", "value": "#d1300f"}, "value": "#1366c2"}
      }
    },
    {
      "data": {"name": "candles"},
      "mark": {"type": "bar", "orient": "vertical", "width": 9.3, "xOffset": 5.87, "strokeWidth": 1},
      "encoding": {
        "x": {"field": "t", "type": "quantitative", "scale": {"domain": [8.69, 783.4], "nice": false, "zero": false}, "axis": null},
        "y": {"field": "o", "type": "quantitative", "scale": {"domain": [20226.8, 20388.04], "nice": false, "zero": false}, "axis": null},
        "y2": {"field": "c"},
        "fill": {"condition": {"test": "datum.c >= datum.o", "value": "#d1300f"}, "value": "#1366c2"},
        "stroke": {"condition": {"test": "datum.c >= datum.o", "value": "#d1300f"}, "value": "#1366c2"}
      }
    },
    {
      "data": {"values": [{"p": 20313.17}, {"p": 20284.72}]},
      "mark": {"type": "rule", "color": "#ff00ff", "strokeWidth": 2},
      "encoding": {
        "y": {"field": "p", "type": "quantitative", "scale": {"domain": [20226.8, 20388.04], "nice": false, "zero": false}, "axis": null}
      }
    },
    {
      "data": {"values": [
        {"t1": 20, "p1": 20381.75, "t2": 781, "p2": 20336.93, "kind": "resistance"},
        {"t1": 125, "p1": 20304.5, "t2": 647, "p2": 20226.8, "kind": "support"}
      ]},
      "mark": {"type": "rule", "xOffset": 5.87, "x2Offset": 5.87},
      "encoding": {
        "x": {"field": "t1", "type": "quantitative", "scale": {"domain": [8.69, 783.4], "nice": false, "zero": false}, "axis": null},
        "x2": {"field": "t2"},
        "y": {"field": "p1", "type": "quantitative", "scale": {"domain": [20226.8, 20388.04], "nice": false, "zero": false}, "axis": null},
        "y2": {"field": "p2"},
        "stroke": {"condition": {"test": "datum.kind == 'resistance'", "value": "#0000ff"}, "value": "#ff0000"},
        "strokeWidth": {"condition": {"test": "datum.kind == 'resistance'", "value": 3.5}, "value": 3}
      }
    },
    {
      "data": {"values": [
        {"t": 20, "p": 20367.3, "dir": "buy"},
        {"t": 35, "p": 20375.0, "dir": "sell"},
        {"t": 430, "p": 20347.0, "dir": "buy"},
        {"t": 435, "p": 20356.9, "dir": "sell"}
      ]},
      "mark": {"type": "point", "filled": true, "opacity": 1, "size": 196, "xOffset": 5.87, "strokeWidth": 0},
      "encoding": {
        "x": {"field": "t", "type": "quantitative", "scale": {"domain": [8.69, 783.4], "nice": false, "zero": false}, "axis": null},
        "y": {"field": "p", "type": "quantitative", "scale": {"domain": [20226.8, 20388.04], "nice": false, "zero": false}, "axis": null},
        "shape": {"field": "dir", "type": "nominal", "scale": {"domain": ["buy", "sell"], "range": ["M0,-1L1,0L0.42,0L0.42,1L-0.42,1L-0.42,0L-1,0Z", "M0,1L1,0L0.42,0L0.42,-1L-0.42,-1L-0.42,0L-1,0Z"]}, "legend": null},
        "fill": {"condition": {"test": "datum.dir == 'buy'", "value": "#ff0000"}, "value": "#0000ff"}
      }
    },
    {
      "data": {"values": [
        {"t1": 20, "p1": 20381.75, "t2": 21, "p2": 20383.06, "side": "high"},
        {"t1": 21, "p1": 20383.06, "t2": 34.8, "p2": 20383.06, "side": "high"},
        {"t1": 574.5, "p1": 20233.0, "t2": 590, "p2": 20233.0, "side": "low"},
        {"t1": 590, "p1": 20233.0, "t2": 590, "p2": 20235.0, "side": "low"}
      ]},
      "mark": {"type": "rule", "xOffset": 5.87, "x2Offset": 5.87, "strokeWidth": 1},
      "encoding": {
        "x": {"field": "t1", "type": "quantitative", "scale": {"domain": [8.69, 783.4], "nice": false, "zero": false}, "axis": null},
        "x2": {"field": "t2"},
        "y": {"field": "p1", "type": "quantitative", "scale": {"domain": [20226.8, 20388.04], "nice": false, "zero": false}, "axis": null},
        "y2": {"field": "p2"},
        "stroke": {"condition": {"test": "datum.side == 'high'", "value": "#e0301e"}, "value": "#2b72d8"}
      }
    },
    {
      "data": {"values": [{"t": 35.0, "p": 20383.06, "label": "20,381,75(2024/09/26-17:20)"}]},
      "mark": {"type": "text", "xOffset": 5.87, "align": "left", "baseline": "middle", "font": "Liberation Sans", "fontSize": 12, "color": "#e0301e"},
      "encoding": {
        "x": {"field": "t", "type": "quantitative", "scale": {"domain": [8.69, 783.4], "nice": false, "zero": false}, "axis": null},
        "y": {"field": "p", "type": "quantitative", "scale": {"domain": [20226.8, 20388.04], "nice": false, "zero": false}, "axis": null},
        "text": {"field": "label"}
      }
    },
    {
      "data": {"values": [{"t": 574.4, "p": 20233.2, "label": "20,235,00(2024/09/27-02:50)"}]},
      "mark": {"type": "text", "xOffset": 5.87, "align": "right", "baseline": "middle", "font": "Liberation Sans", "fontSize": 12, "color": "#2b72d8"},
      "encoding": {
        "x": {"field": "t", "type": "quantitative", "scale": {"domain": [8.69, 783.4], "nice": false, "zero": false}, "axis": null},
        "y": {"field": "p", "type": "quantitative", "scale": {"domain": [20226.8, 20388.04], "nice": false, "zero": false}, "axis": null},
        "text": {"field": "label"}
      }
    },
    {
      "data": {"values": [
        {"t1": 501.6, "t2": 542.5, "p1": 20262.85, "p2": 20247.1, "kind": "zone"},
        {"t1": 571.6, "t2": 642.6, "p1": 20250.05, "p2": 20231.3, "kind": "zone"},
        {"t1": 506.6, "t2": 647.6, "p1": 20315.84, "p2": 20309.36, "kind": "level"},
        {"t1": 601.7, "t2": 652.6, "p1": 20287.2, "p2": 20280.7, "kind": "level"}
      ]},
      "mark": {"type": "rect", "fill": null, "fillOpacity": 0},
      "encoding": {
        "x": {"field": "t1", "type": "quantitative", "scale": {"domain": [8.69, 783.4], "nice": false, "zero": false}, "axis": null},
        "x2": {"field": "t2"},
        "y": {"field": "p1", "type": "quantitative", "scale": {"domain": [20226.8, 20388.04], "nice": false, "zero": false}, "axis": null},
        "y2": {"field": "p2"},
        "stroke": {"condition": {"test": "datum.kind == 'zone'", "value": "#ff0000"}, "value": "#ff00ff"},
        "strokeWidth": {"condition": {"test": "datum.kind == 'zone'", "value": 4.5}, "value": 3.8}
      }
    },
    {
      "data": {"values": [{"t": 571.6, "p": 20250.05}, {"t": 642.6, "p": 20231.3}]},
      "mark": {"type": "point", "shape": "square", "size": 30, "filled": true, "color": "#8c8c8c", "stroke": "#333333", "strokeWidth": 1, "opacity": 1},
      "encoding": {
        "x": {"field": "t", "type": "quantitative", "scale": {"domain": [8.69, 783.4], "nice": false, "zero": false}, "axis": null},
        "y": {"field": "p", "type": "quantitative", "scale": {"domain": [20226.8, 20388.04], "nice": false, "zero": false}, "axis": null}
      }
    },
    {
      "data": {"name": "ink"},
      "mark": {"type": "line", "color": "#ff00ff", "strokeWidth": 3.5, "interpolate": "catmull-rom", "strokeCap": "round", "strokeJoin": "round"},
      "encoding": {
        "x": {"field": "t", "type": "quantitative", "scale": {"domain": [8.69, 783.4], "nice": false, "zero": false}, "axis": null},
        "y": {"field": "p", "type": "quantitative", "scale": {"domain": [20226.8, 20388.04], "nice": false, "zero": false}, "axis": null},
        "detail": {"field": "g"},
        "order": {"field": "i"}
      }
    },
    {
      "data": {"name": "ellipse"},
      "mark": {"type": "line", "color": "#22b14c", "strokeWidth": 4, "interpolate": "cardinal-closed"},
      "encoding": {
        "x": {"field": "t", "type": "quantitative", "scale": {"domain": [8.69, 783.4], "nice": false, "zero": false}, "axis": null},
        "y": {"field": "p", "type": "quantitative", "scale": {"domain": [20226.8, 20388.04], "nice": false, "zero": false}, "axis": null},
        "order": {"field": "i"}
      }
    },
    {
      "data": {"values": [{"t": 9.2, "p": 20313.6, "label": "20313.17"}, {"t": 9.2, "p": 20285.15, "label": "20284.72"}]},
      "mark": {"type": "text", "align": "left", "baseline": "alphabetic", "font": "Liberation Sans", "fontSize": 11, "color": "#000000"},
      "encoding": {
        "x": {"field": "t", "type": "quantitative", "scale": {"domain": [8.69, 783.4], "nice": false, "zero": false}, "axis": null},
        "y": {"field": "p", "type": "quantitative", "scale": {"domain": [20226.8, 20388.04], "nice": false, "zero": false}, "axis": null},
        "text": {"field": "label"}
      }
    },
    {
      "data": {"values": [{"t1": 786.4, "t2": 806, "p1": 20305.0, "p2": 20311.4}]},
      "mark": {"type": "rect", "color": "#3a7be0"},
      "encoding": {
        "x": {"field": "t1", "type": "quantitative", "scale": {"domain": [8.69, 783.4], "nice": false, "zero": false}, "axis": null},
        "x2": {"field": "t2"},
        "y": {"field": "p1", "type": "quantitative", "scale": {"domain": [20226.8, 20388.04], "nice": false, "zero": false}, "axis": null},
        "y2": {"field": "p2"}
      }
    },
    {
      "data": {"values": [{"t": 786.4, "p": 20308.2}]},
      "mark": {"type": "point", "shape": "M-0.28,0L0,-1L0.2,-1L0.2,1L0,1Z", "size": 1444, "filled": true, "color": "#3a7be0", "opacity": 1, "strokeWidth": 0},
      "encoding": {
        "x": {"field": "t", "type": "quantitative", "scale": {"domain": [8.69, 783.4], "nice": false, "zero": false}, "axis": null},
        "y": {"field": "p", "type": "quantitative", "scale": {"domain": [20226.8, 20388.04], "nice": false, "zero": false}, "axis": null}
      }
    },
    {
      "data": {"values": [
        {"t": 804.7, "p": 20310.2, "label": "20308,00"},
        {"t": 804.7, "p": 20308.1, "label": "- 0,19%"},
        {"t": 804.7, "p": 20306.2, "label": "▼38,25"}
      ]},
      "mark": {"type": "text", "align": "right", "baseline": "middle", "font": "Liberation Sans", "fontSize": 11.5, "color": "#ffffff"},
      "encoding": {
        "x": {"field": "t", "type": "quantitative", "scale": {"domain": [8.69, 783.4], "nice": false, "zero": false}, "axis": null},
        "y": {"field": "p", "type": "quantitative", "scale": {"domain": [20226.8, 20388.04], "nice": false, "zero": false}, "axis": null},
        "text": {"field": "label"}
      }
    },
    {
      "data": {"values": [{"t": 804.4, "p": 20225.3, "label": "03:45:00"}]},
      "mark": {"type": "text", "align": "right", "baseline": "middle", "font": "Liberation Sans", "fontSize": 11, "color": "#000000"},
      "encoding": {
        "x": {"field": "t", "type": "quantitative", "scale": {"domain": [8.69, 783.4], "nice": false, "zero": false}, "axis": null},
        "y": {"field": "p", "type": "quantitative", "scale": {"domain": [20226.8, 20388.04], "nice": false, "zero": false}, "axis": null},
        "text": {"field": "label"}
      }
    },
    {
      "data": {"values": [{"t": 8.8, "p": 20225.3, "label": "26"}]},
      "mark": {"type": "text", "align": "left", "baseline": "middle", "font": "Liberation Sans", "fontSize": 11.5, "color": "#000000"},
      "encoding": {
        "x": {"field": "t", "type": "quantitative", "scale": {"domain": [8.69, 783.4], "nice": false, "zero": false}, "axis": null},
        "y": {"field": "p", "type": "quantitative", "scale": {"domain": [20226.8, 20388.04], "nice": false, "zero": false}, "axis": null},
        "text": {"field": "label"}
      }
    }
  ]
}
